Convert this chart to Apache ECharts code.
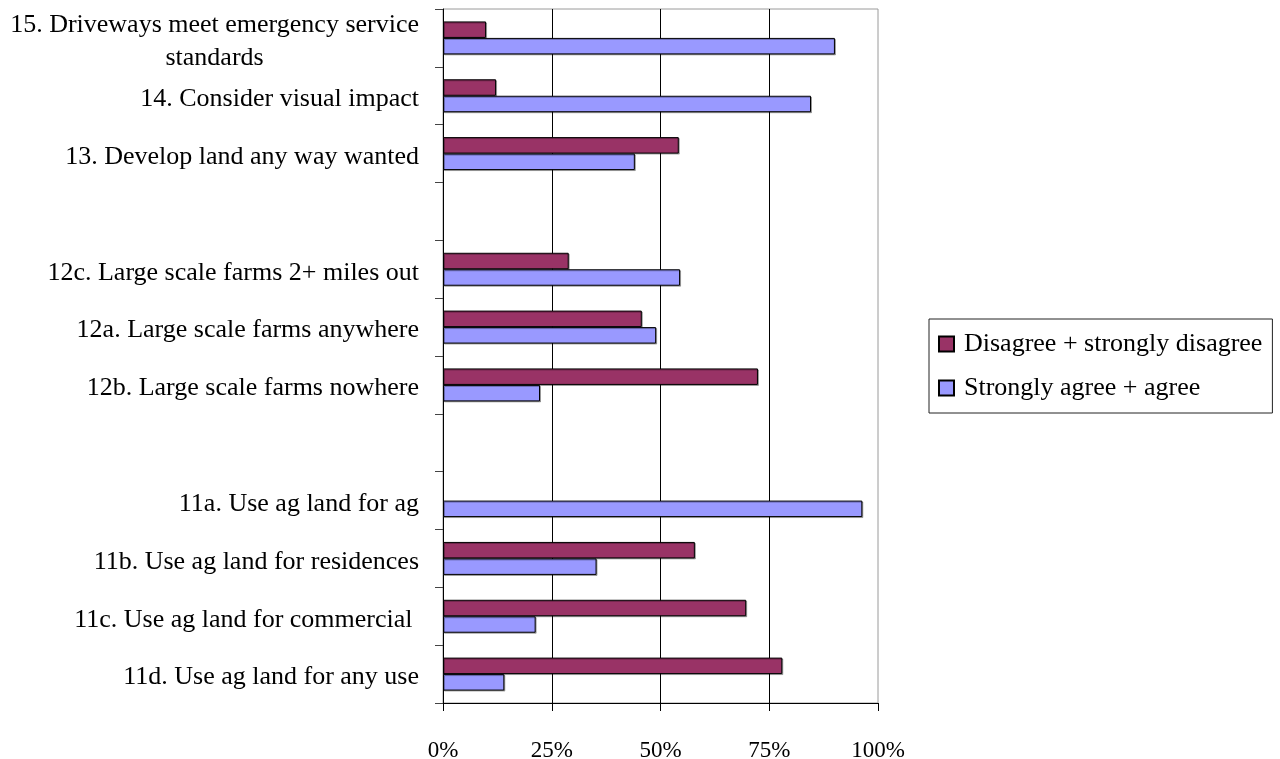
<!DOCTYPE html>
<html>
<head>
<meta charset="utf-8">
<script src="https://cdn.jsdelivr.net/npm/echarts@6/dist/echarts.min.js"></script>
<style>
html,body{margin:0;padding:0;background:#fff;}
#chart{width:1280px;height:759px;}
</style>
</head>
<body>
<div id="chart"></div>
<script>
// Categories listed bottom to top
const categories = [
  '11d. Use ag land for any use',
  '11c. Use ag land for commercial ',
  '11b. Use ag land for residences',
  '11a. Use ag land for ag',
  '',
  '12b. Large scale farms nowhere',
  '12a. Large scale farms anywhere',
  '12c. Large scale farms 2+ miles out',
  ' ',
  '13. Develop land any way wanted',
  '14. Consider visual impact',
  '15. Driveways meet emergency service\nstandards'
];
const seriesNames = ['Disagree + strongly disagree', 'Strongly agree + agree'];
const disagree = [78.0, 69.7, 57.9, null, null, 72.4, 45.7, 28.9, null, 54.2, 12.2, 9.9];
const agree    = [14.1, 21.3, 35.3, 96.4, null, 22.3, 49.0, 54.5, null, 44.1, 84.6, 90.1];
const xTicks = [0, 25, 50, 75, 100];

const FONT = 'Liberation Serif';
const chart = echarts.init(document.getElementById('chart'), null, {renderer: 'canvas'});

function labelFmt(v) {
  const parts = v.split('\n');
  if (parts.length > 1) {
    return '{a|' + parts[0] + '}\n{c|' + parts[1] + '}';
  }
  return v;
}

chart.setOption({
  animation: false,
  backgroundColor: '#fff',
  textStyle: {fontFamily: FONT},
  grid: {
    left: 443, right: 402, top: 9, bottom: 56,
    show: true, borderColor: '#9a9a9a', borderWidth: 1,
    outerBoundsMode: 'none'
  },
  legend: {
    orient: 'vertical',
    left: 929, top: 319,
    padding: [12, 10, 12, 9],
    itemWidth: 15, itemHeight: 15, itemGap: 18,
    icon: 'rect',
    borderColor: '#222', borderWidth: 1,
    textStyle: {fontFamily: FONT, fontSize: 26, color: '#000', padding: [0, 0, 0, 5]},
    data: seriesNames
  },
  xAxis: {
    type: 'value', min: 0, max: 100, interval: 25,
    axisLine: {show: true, lineStyle: {color: '#000', width: 1}},
    axisTick: {show: true, length: 8, lineStyle: {color: '#000'}},
    axisLabel: {
      fontFamily: FONT, fontSize: 23, color: '#000', margin: 36,
      formatter: function (v) { return xTicks.indexOf(v) >= 0 ? v + '%' : ''; }
    },
    splitLine: {show: true, showMinLine: false, showMaxLine: false, lineStyle: {color: '#000', width: 1}}
  },
  yAxis: {
    type: 'category', data: categories,
    axisLine: {show: true, lineStyle: {color: '#000', width: 1}},
    axisTick: {show: true, length: 8, lineStyle: {color: '#444'}},
    axisLabel: {
      fontFamily: FONT, fontSize: 26, color: '#000', margin: 24,
      lineHeight: 33, interval: 0, padding: [7, 0, 0, 0],
      formatter: labelFmt,
      rich: {
        a: {fontFamily: FONT, fontSize: 26, color: '#000', lineHeight: 33},
        c: {fontFamily: FONT, fontSize: 26, color: '#000', lineHeight: 33, align: 'center'}
      }
    },
    splitLine: {show: false}
  },
  series: [
    {
      name: seriesNames[0], type: 'bar', data: disagree,
      barCategoryGap: '43%', barGap: '0%',
      itemStyle: {color: '#993366', borderColor: '#000', borderWidth: 1,
        shadowColor: 'rgba(0,0,0,0.3)', shadowOffsetX: 1, shadowOffsetY: 1, shadowBlur: 0}
    },
    {
      name: seriesNames[1], type: 'bar', data: agree,
      barCategoryGap: '43%', barGap: '0%',
      itemStyle: {color: '#9999FF', borderColor: '#000', borderWidth: 1,
        shadowColor: 'rgba(0,0,0,0.3)', shadowOffsetX: 1, shadowOffsetY: 1, shadowBlur: 0}
    }
  ]
});
</script>
</body>
</html>
